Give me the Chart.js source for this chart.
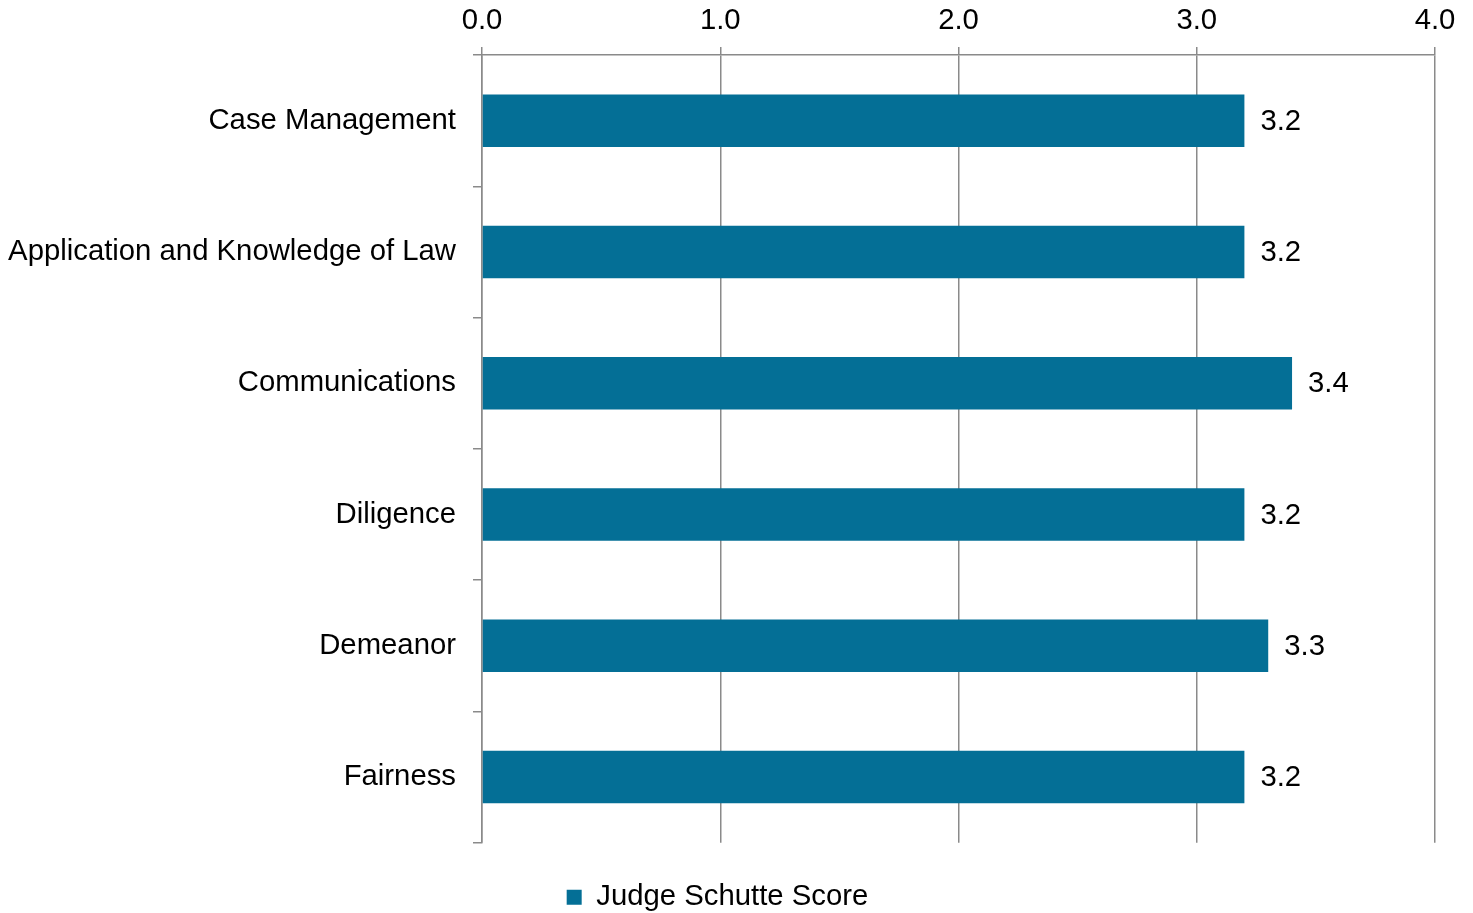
<!DOCTYPE html>
<html>
<head>
<meta charset="utf-8">
<script src="https://cdn.jsdelivr.net/npm/chart.js@4/dist/chart.umd.min.js"></script>
<style>
  body { margin: 0; background: #fff; }
</style>
</head>
<body>
<canvas id="scoreChart" width="1473" height="913"></canvas>
<script>
// chart data
const categories = ['Case Management', 'Application and Knowledge of Law', 'Communications', 'Diligence', 'Demeanor', 'Fairness'];
const judgeScores = [3.2, 3.2, 3.4, 3.2, 3.3, 3.2];
const seriesName = 'Judge Schutte Score';
const axisMin = 0;
const axisMax = 4;
const axisStep = 1;

const barColor = '#046f96';
const gridColor = '#8a8a8a';
const fontFamily = '"Liberation Sans", Arial, sans-serif';
const fontSize = 29.3;

// draws the value next to each bar
const valueLabels = {
    id: 'valueLabels',
    afterDatasetsDraw(chart) {
        const ctx = chart.ctx;
        ctx.save();
        ctx.font = fontSize + 'px ' + fontFamily;
        ctx.fillStyle = '#000';
        ctx.textAlign = 'left';
        ctx.textBaseline = 'middle';
        chart.getDatasetMeta(0).data.forEach((bar, i) => {
            ctx.fillText(judgeScores[i].toFixed(1), bar.x + 16, bar.y + 1);
        });
        ctx.restore();
    }
};

const ctx = document.getElementById('scoreChart').getContext('2d');
new Chart(ctx, {
    type: 'bar',
    data: {
        labels: categories,
        datasets: [{
            label: seriesName,
            data: judgeScores,
            backgroundColor: barColor,
            borderWidth: 0,
            barPercentage: 0.4,
            categoryPercentage: 1.0
        }]
    },
    options: {
        indexAxis: 'y',
        responsive: false,
        animation: false,
        layout: {
            // legend sits low, so let it run into the bottom padding
            padding: { top: 0, right: 38, bottom: -9, left: 0 }
        },
        scales: {
            x: {
                position: 'top',
                min: axisMin,
                max: axisMax,
                ticks: {
                    stepSize: axisStep,
                    padding: 9,
                    color: '#000',
                    font: { family: fontFamily, size: fontSize },
                    callback: v => Number(v).toFixed(1)
                },
                grid: {
                    color: gridColor,
                    lineWidth: 1.5,
                    tickLength: 8
                },
                border: { color: gridColor, width: 1.5 },
                afterFit(scale) { scale.height = 55; }
            },
            // empty axis, only keeps a gap between the plot and the legend
            gap: {
                axis: 'x',
                type: 'linear',
                position: 'bottom',
                grid: { display: false },
                border: { display: false },
                ticks: { display: false },
                afterFit(scale) { scale.height = 40; }
            },
            y: {
                ticks: {
                    padding: 17,
                    color: '#000',
                    font: { family: fontFamily, size: fontSize }
                },
                grid: {
                    offset: true,
                    drawOnChartArea: false,
                    color: gridColor,
                    lineWidth: 1.5,
                    tickLength: 9
                },
                border: { color: gridColor, width: 1.5 },
                afterFit(scale) { scale.width = 482; }
            }
        },
        plugins: {
            legend: {
                position: 'bottom',
                labels: {
                    boxWidth: 15,
                    boxHeight: 15,
                    padding: 0,
                    color: '#000',
                    font: { family: fontFamily, size: fontSize }
                }
            },
            tooltip: { enabled: false }
        }
    },
    plugins: [valueLabels]
});
</script>
</body>
</html>
